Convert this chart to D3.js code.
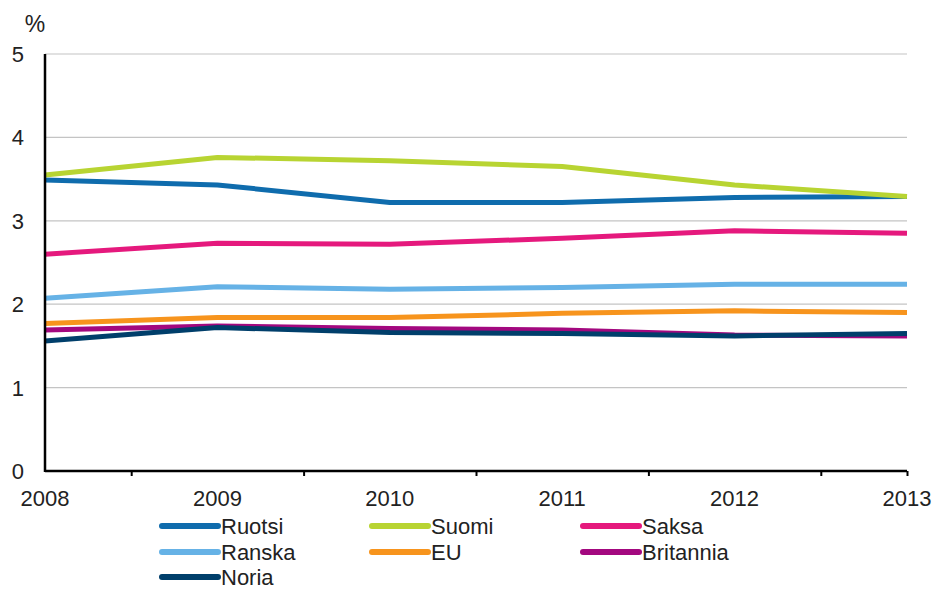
<!DOCTYPE html>
<html><head><meta charset="utf-8">
<script src="https://cdn.jsdelivr.net/npm/d3@7"></script>
<style>body{margin:0;background:#fff}svg{display:block}text{font-family:"Liberation Sans",Arial,sans-serif;fill:#222}</style>
</head><body><svg id="c" width="935" height="591"></svg>
<script>
const years = [2008, 2009, 2010, 2011, 2012, 2013];
const yTicks = [0, 1, 2, 3, 4, 5];
const seriesNames = ["Ruotsi", "Suomi", "Saksa", "Ranska", "EU", "Britannia", "Noria"];
const colors = ["#0f6cad", "#b8d432", "#e5197d", "#66b2e6", "#f7941d", "#a3087f", "#003f6b"];
const ruotsi    = [3.49, 3.43, 3.22, 3.22, 3.28, 3.29];
const suomi     = [3.55, 3.76, 3.72, 3.65, 3.43, 3.29];
const saksa     = [2.60, 2.73, 2.72, 2.79, 2.88, 2.85];
const ranska    = [2.07, 2.21, 2.18, 2.20, 2.24, 2.24];
const eu        = [1.77, 1.84, 1.84, 1.89, 1.92, 1.90];
const britannia = [1.69, 1.74, 1.71, 1.69, 1.63, 1.62];
const noria     = [1.56, 1.72, 1.66, 1.65, 1.62, 1.65];
const values = [ruotsi, suomi, saksa, ranska, eu, britannia, noria];

const svg = d3.select("#c");
const L = 45, R = 907, T = 54, B = 471;
const x = d3.scaleLinear().domain([2008, 2013]).range([L, R]);
const y = d3.scaleLinear().domain([0, 5]).range([B, T]);

// gridlines
svg.append("g").selectAll("line").data(yTicks.filter(d => d > 0)).join("line")
  .attr("x1", L).attr("x2", R).attr("y1", d => y(d)).attr("y2", d => y(d))
  .attr("stroke", "#c4c4c4").attr("stroke-width", 1.2);

// y labels
svg.append("g").selectAll("text").data(yTicks).join("text")
  .attr("x", 24).attr("y", d => y(d)).attr("dy", "0.36em")
  .attr("text-anchor", "end").attr("font-size", 22).text(d => d);
svg.append("text").attr("x", 35).attr("y", 24).attr("dy", "0.36em")
  .attr("text-anchor", "middle").attr("font-size", 23).text("%");

// lines
const line = d3.line().x((d, i) => x(years[i])).y(d => y(d));
svg.append("g").selectAll("path").data(values).join("path")
  .attr("d", line).attr("fill", "none")
  .attr("stroke", (d, i) => colors[i]).attr("stroke-width", 5)
  .attr("stroke-linejoin", "round");

// axes
const xAxis = d3.axisBottom(x)
  .tickValues([2008.5, 2009.5, 2010.5, 2011.5, 2012.5, 2013])
  .tickSize(5).tickFormat("");
const gx = svg.append("g").attr("transform", `translate(0,${B})`).call(xAxis);
gx.select(".domain").attr("stroke", "#000").attr("stroke-width", 2.5).attr("d", `M${L},0H${R}`);
gx.selectAll(".tick line").attr("stroke", "#000").attr("stroke-width", 2);
svg.append("line").attr("x1", L).attr("x2", L).attr("y1", T).attr("y2", B + 1)
  .attr("stroke", "#000").attr("stroke-width", 2.5);

svg.append("g").selectAll("text").data(years).join("text")
  .attr("x", d => x(d)).attr("y", 498).attr("dy", "0.36em")
  .attr("text-anchor", "middle").attr("font-size", 22).text(d => d);

// legend
const legX = [162, 372, 583];
const legY = [526, 552, 577];
const lg = svg.append("g").selectAll("g").data(seriesNames).join("g")
  .attr("transform", (d, i) => `translate(${legX[i % 3]},${legY[Math.floor(i / 3)]})`);
lg.append("line").attr("x1", 0).attr("x2", 56).attr("y1", 0).attr("y2", 0)
  .attr("stroke", (d, i) => colors[i]).attr("stroke-width", 6).attr("stroke-linecap", "round");
lg.append("text").attr("x", 59).attr("dy", "0.36em").attr("font-size", 22).text(d => d);
</script></body></html>
